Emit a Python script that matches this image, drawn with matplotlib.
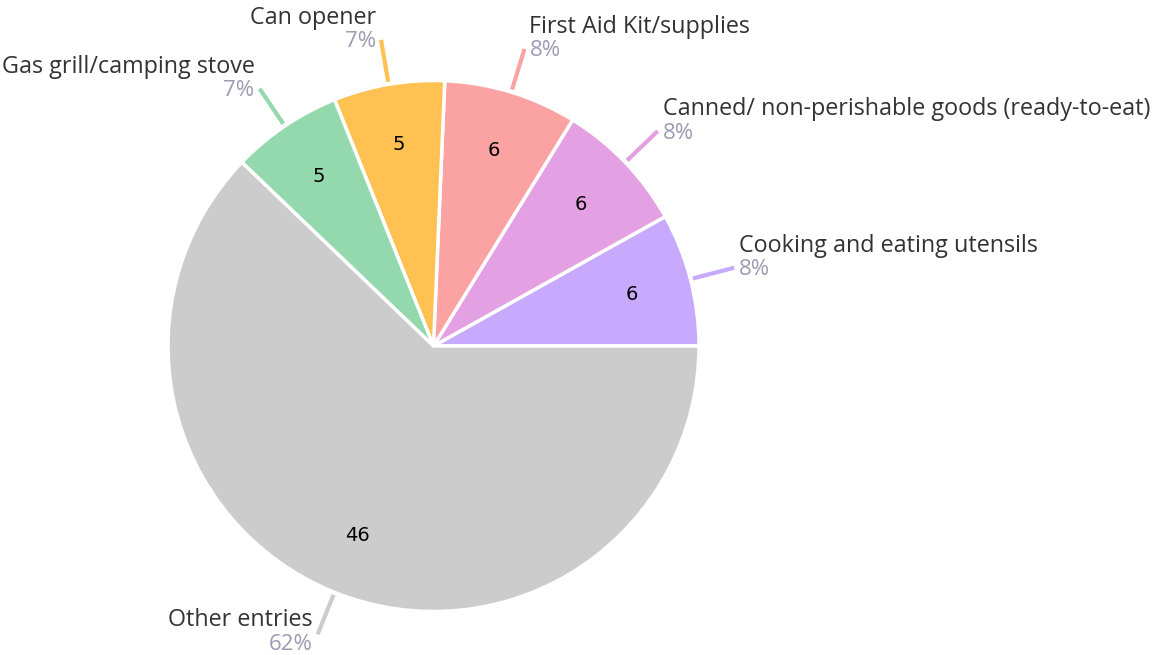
import numpy as np
import matplotlib
matplotlib.use("Agg")
import matplotlib.pyplot as plt

labels = ["Cooking and eating utensils", "Canned/ non-perishable goods (ready-to-eat)",
          "First Aid Kit/supplies", "Can opener", "Gas grill/camping stove", "Other entries"]
values = [6, 6, 6, 5, 5, 46]
colors = ["#c7a9fd", "#e3a1e3", "#fba3a2", "#ffc152", "#94d9ae", "#cccccc"]

W, H = 1160, 655
fig = plt.figure(figsize=(W / 100, H / 100), dpi=100)
ax = fig.add_axes([0, 0, 1, 1])

cx, cy, R = 433.5, H - 346, 265.5
wedges, _ = ax.pie(values, colors=colors, startangle=0, counterclock=True,
                   center=(cx, cy), radius=R, frame=True,
                   wedgeprops=dict(edgecolor="white", linewidth=2.5))
ax.set_xlim(0, W)
ax.set_ylim(0, H)
ax.set_aspect("equal")
ax.axis("off")

total = sum(values)
font = "Open Sans"
for w, lab, v, col in zip(wedges, labels, values, colors):
    ang = np.deg2rad((w.theta1 + w.theta2) / 2)
    c, s = np.cos(ang), np.sin(ang)
    ri = 0.77 * R
    ax.text(cx + ri * c, cy + ri * s, str(v), ha="center", va="center",
            fontsize=14, color="black", family="DejaVu Sans")
    r0, r1 = 1.01 * R, 1.17 * R
    x0, y0 = cx + r0 * c, cy + r0 * s
    x1, y1 = cx + r1 * c, cy + r1 * s
    ax.plot([x0, x1], [y0, y1], color=col, lw=3, solid_capstyle="butt")
    right = c >= 0
    ha = "left" if right else "right"
    tx = x1 + (5 if right else -5)
    if s >= 0:
        ny, py = y1 + 22, y1 - 2
    else:
        ny, py = y1 + 14, y1 - 10
    ax.text(tx, ny, lab, ha=ha, va="center", fontsize=16.8, color="#333333", family=font)
    ax.text(tx, py, f"{round(100 * v / total)}%", ha=ha, va="center", fontsize=16,
            color="#9b9bb3", family=font)

fig.savefig("out.png", dpi=100)
